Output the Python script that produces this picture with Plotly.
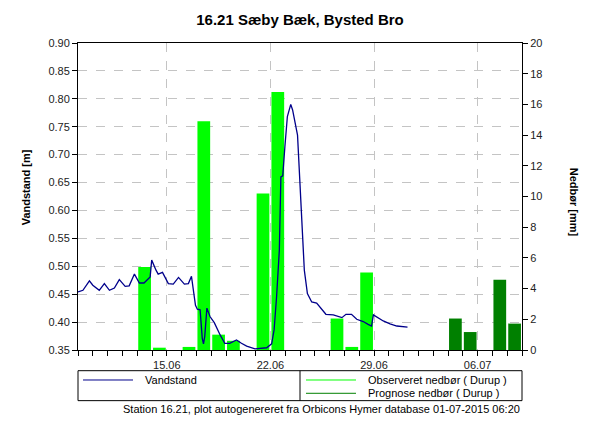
import plotly.graph_objects as go

# ---------------- data ----------------
level_time = [
    "2015-06-09 00:00", "2015-06-09 08:00", "2015-06-09 18:30", "2015-06-10 00:00",
    "2015-06-10 10:30", "2015-06-10 18:45", "2015-06-11 03:00", "2015-06-11 11:00",
    "2015-06-11 19:00", "2015-06-12 04:30", "2015-06-12 11:00", "2015-06-12 19:30",
    "2015-06-13 03:30", "2015-06-13 11:00", "2015-06-13 21:00", "2015-06-13 23:30",
    "2015-06-14 06:30", "2015-06-14 10:00", "2015-06-14 17:00", "2015-06-15 02:30",
    "2015-06-15 10:30", "2015-06-15 19:00", "2015-06-16 04:30", "2015-06-16 11:00",
    "2015-06-16 16:00", "2015-06-16 19:00", "2015-06-16 22:30", "2015-06-17 01:30",
    "2015-06-17 06:00", "2015-06-17 09:30", "2015-06-17 11:30", "2015-06-17 13:30",
    "2015-06-17 17:00", "2015-06-17 22:00", "2015-06-18 05:00", "2015-06-18 14:30",
    "2015-06-18 22:00", "2015-06-19 06:00", "2015-06-19 17:00", "2015-06-20 01:00",
    "2015-06-20 09:30", "2015-06-20 23:00", "2015-06-21 18:00", "2015-06-22 02:00",
    "2015-06-22 06:00", "2015-06-22 10:00", "2015-06-22 14:30", "2015-06-22 17:00",
    "2015-06-22 20:00", "2015-06-22 23:30", "2015-06-23 03:30", "2015-06-23 09:00",
    "2015-06-23 12:00", "2015-06-23 20:00", "2015-06-24 03:00", "2015-06-24 07:00",
    "2015-06-24 12:00", "2015-06-24 19:00", "2015-06-25 03:00", "2015-06-25 09:00",
    "2015-06-25 18:00", "2015-06-26 06:00", "2015-06-26 14:00", "2015-06-26 20:00",
    "2015-06-27 02:30", "2015-06-27 11:30", "2015-06-27 20:00", "2015-06-28 06:30",
    "2015-06-28 14:30", "2015-06-28 20:00", "2015-06-28 23:00", "2015-06-29 07:00",
    "2015-06-29 15:00", "2015-06-30 02:00", "2015-06-30 13:00", "2015-07-01 06:20",
]
level_m = [
    0.454, 0.457, 0.474, 0.466,
    0.457, 0.469, 0.457, 0.461,
    0.476, 0.464, 0.465, 0.486,
    0.470, 0.470, 0.481, 0.511,
    0.493, 0.486, 0.489, 0.469,
    0.468, 0.480, 0.468, 0.469,
    0.482, 0.457, 0.430, 0.423,
    0.422, 0.371, 0.361, 0.374,
    0.425, 0.410, 0.399, 0.377,
    0.362, 0.362, 0.368, 0.362,
    0.357, 0.352, 0.354, 0.361,
    0.386, 0.445, 0.529, 0.660,
    0.662, 0.714, 0.768, 0.790,
    0.780, 0.735, 0.583, 0.493,
    0.451, 0.436, 0.434, 0.426,
    0.414, 0.413, 0.410, 0.408,
    0.414, 0.414, 0.405, 0.401,
    0.396, 0.393, 0.413, 0.408,
    0.402, 0.397, 0.393, 0.391,
]

obs_days = ["2015-06-13", "2015-06-14", "2015-06-16", "2015-06-17", "2015-06-18",
            "2015-06-19", "2015-06-21", "2015-06-22", "2015-06-26", "2015-06-27",
            "2015-06-28"]
obs_mm = [5.4, 0.15, 0.2, 14.9, 1.0, 0.6, 10.2, 16.8, 2.05, 0.2, 5.05]

prog_days = ["2015-07-04", "2015-07-05", "2015-07-07", "2015-07-08"]
prog_mm = [2.05, 1.17, 4.58, 1.72]

major_ticks = ["2015-06-15", "2015-06-22", "2015-06-29", "2015-07-06"]
major_labels = ["15.06", "22.06", "29.06", "06.07"]

title = "16.21 Sæby Bæk, Bysted Bro"
footer = "Station 16.21, plot autogenereret fra Orbicons Hymer database 01-07-2015 06:20"

# ---------------- figure ----------------
DAY = 86400000
FONT = "Liberation Sans"
LIGHT = "#00ff00"
DARK = "#008000"
NAVY = "#00008b"

fig = go.Figure()
fig.add_trace(go.Bar(x=obs_days, y=obs_mm, name="Observeret nedbør ( Durup )",
                     xperiod=DAY, xperiodalignment="middle", width=0.86 * DAY,
                     marker=dict(color=LIGHT, line=dict(width=0)), yaxis="y"))
fig.add_trace(go.Bar(x=prog_days, y=prog_mm, name="Prognose nedbør ( Durup )",
                     xperiod=DAY, xperiodalignment="middle", width=0.86 * DAY,
                     marker=dict(color=DARK, line=dict(width=0)), yaxis="y"))
fig.add_trace(go.Scatter(x=level_time, y=level_m, name="Vandstand", mode="lines",
                         line=dict(color=NAVY, width=1.3), yaxis="y2"))

tickfont = dict(family=FONT, size=11, color="#222222")

fig.update_layout(
    width=600, height=425,
    margin=dict(l=78, r=78, t=43, b=75),
    paper_bgcolor="white", plot_bgcolor="white",
    showlegend=False, barmode="overlay",
    title=dict(text="<b>" + title + "</b>", x=0.5, xanchor="center", y=0.953,
               yanchor="middle", font=dict(family=FONT, size=15, color="black")),
    xaxis=dict(type="date", range=["2015-06-09", "2015-07-09"],
               tickvals=major_ticks, ticktext=major_labels,
               ticks="outside", ticklen=5, tickcolor="black", tickfont=tickfont,
               showline=True, linecolor="black", linewidth=1, mirror=True,
               showgrid=True, gridcolor="#c4c4c4", griddash="dash", gridwidth=1,
               minor=dict(dtick=DAY, ticks="outside", ticklen=5, tickcolor="black",
                          showgrid=False),
               zeroline=False),
    yaxis=dict(side="right", range=[0, 20], dtick=2, ticks="outside", ticklen=5,
               tickcolor="black", tickfont=tickfont, showline=True,
               linecolor="black", linewidth=1, showgrid=False, zeroline=False),
    yaxis2=dict(side="left", overlaying="y", range=[0.35, 0.90], dtick=0.05,
                tickformat=".2f", ticks="outside", ticklen=5, tickcolor="black",
                tickfont=tickfont, showline=True, linecolor="black", linewidth=1,
                showgrid=True, gridcolor="#c4c4c4", griddash="dash", gridwidth=1,
                zeroline=False),
)

# axis titles
fig.add_annotation(text="<b>Vandstand [m]</b>", xref="paper", yref="paper",
                   x=-0.135, y=0.53, textangle=-90, showarrow=False,
                   font=dict(family=FONT, size=11, color="black"))
fig.add_annotation(text="<b>Nedbør [mm]</b>", xref="paper", yref="paper",
                   x=1.137, y=0.48, textangle=90, showarrow=False,
                   font=dict(family=FONT, size=11, color="black"))

# legend box (drawn manually to mimic the two-column boxed legend)
fig.add_shape(type="rect", xref="paper", yref="paper", x0=0, x1=1,
              y0=-0.165, y1=-0.0674, line=dict(color="black", width=1),
              fillcolor="white")
fig.add_shape(type="line", xref="paper", yref="paper", x0=0.5, x1=0.5,
              y0=-0.165, y1=-0.0674, line=dict(color="black", width=1))
legend_items = [
    (fig.data[2].name, NAVY, 0.0113, -0.0977),
    (fig.data[0].name, LIGHT, 0.5135, -0.0977),
    (fig.data[1].name, DARK, 0.5135, -0.141),
]
for name, color, lx, ly in legend_items:
    fig.add_shape(type="line", xref="paper", yref="paper", x0=lx, x1=lx + 0.1126,
                  y0=ly, y1=ly, line=dict(color=color, width=1))
    fig.add_annotation(text=name, xref="paper", yref="paper", x=lx + 0.135, y=ly,
                       xanchor="left", yanchor="middle", showarrow=False,
                       font=dict(family=FONT, size=11, color="black"))

fig.add_annotation(text=footer, xref="paper", yref="paper", x=1.0, y=-0.192,
                   xanchor="right", yanchor="middle", showarrow=False,
                   font=dict(family=FONT, size=11, color="black"))

fig.write_html("out.html")
